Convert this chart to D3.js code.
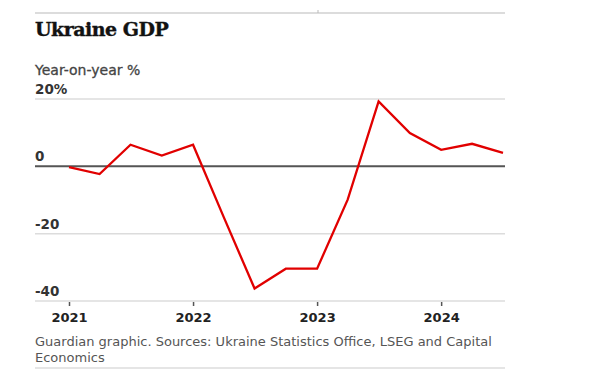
<!DOCTYPE html>
<html>
<head>
<meta charset="utf-8">
<script src="https://cdn.jsdelivr.net/npm/d3@7"></script>
<style>
  body { margin: 0; background: #fff; }
  svg { display: block; }
</style>
</head>
<body>
<div id="chart"></div>
<script>
// Quarterly GDP growth, year-on-year %
const quarters = ["2021-01-01", "2021-04-01", "2021-07-01", "2021-10-01",
                  "2022-01-01", "2022-04-01", "2022-07-01", "2022-10-01",
                  "2023-01-01", "2023-04-01", "2023-07-01", "2023-10-01",
                  "2024-01-01", "2024-04-01", "2024-07-01"];
const gdpGrowth = [-0.2, -2.3, 6.4, 3.2, 6.4, -15, -36.3, -30.4, -30.4, -9.9, 19.3, 9.9, 4.9, 6.7, 4.0];
const yTicks = [20, 0, -20, -40];
const yTickLabels = ["20%", "0", "-20", "-40"];
const yearTicks = ["2021", "2022", "2023", "2024"];

const W = 599, H = 375;
const left = 35, right = 505;
const sans = "'DejaVu Sans', sans-serif";

const parse = d3.timeParse("%Y-%m-%d");
const data = quarters.map((q, i) => ({ date: parse(q), value: gdpGrowth[i] }));

const svg = d3.select("#chart").append("svg")
    .attr("width", W)
    .attr("height", H);

// scales
const x = d3.scaleTime()
    .domain([parse("2021-01-01"), parse("2024-07-01")])
    .range([69, 503]);

const y = d3.scaleLinear()
    .domain([-40, 20])
    .range([301, 99]);

// top rule
svg.append("line")
    .attr("x1", left).attr("x2", right)
    .attr("y1", 13).attr("y2", 13)
    .attr("stroke", "#dcdcdc").attr("stroke-width", 2);
svg.append("line")
    .attr("x1", 318).attr("x2", 318)
    .attr("y1", 10).attr("y2", 13)
    .attr("stroke", "#bbb").attr("stroke-width", 1);

// title
svg.append("text")
    .attr("x", left).attr("y", 36)
    .attr("font-family", "'DejaVu Serif', serif")
    .attr("font-weight", "bold")
    .attr("font-size", 19)
    .attr("letter-spacing", -0.5)
    .attr("fill", "#121212")
    .attr("stroke", "#121212")
    .attr("stroke-width", 0.4)
    .text("Ukraine GDP");

svg.append("text")
    .attr("x", left).attr("y", 75)
    .attr("font-family", sans)
    .attr("font-size", 14)
    .attr("fill", "#444")
    .attr("stroke", "#444")
    .attr("stroke-width", 0.3)
    .text("Year-on-year %");

// gridlines
svg.append("g")
    .selectAll("line")
    .data(yTicks)
    .join("line")
    .attr("x1", left).attr("x2", right)
    .attr("y1", d => y(d)).attr("y2", d => y(d))
    .attr("stroke", d => d === 0 ? "#555" : "#dcdcdc")
    .attr("stroke-width", d => d === 0 ? 2 : 1.5);

// y labels
svg.append("g")
    .selectAll("text")
    .data(yTicks)
    .join("text")
    .attr("x", left)
    .attr("y", d => y(d) - 5)
    .attr("font-family", sans)
    .attr("font-weight", 700)
    .attr("font-size", 13.5)
    .attr("fill", "#333")
    .text((d, i) => yTickLabels[i]);

// x axis
const xAxis = d3.axisBottom(x)
    .tickValues(yearTicks.map(t => parse(t + "-01-01")))
    .tickSize(4)
    .tickFormat(d3.timeFormat("%Y"));

const gx = svg.append("g")
    .attr("transform", `translate(0,${y(-40) + 1})`)
    .call(xAxis);
gx.select(".domain").remove();
gx.selectAll(".tick line").attr("stroke", "#555").attr("stroke-width", 1.5);
gx.selectAll(".tick text")
    .attr("dy", 0)
    .attr("y", 20)
    .attr("font-family", sans)
    .attr("font-weight", 700)
    .attr("font-size", 13)
    .attr("fill", "#222");

// the line
const line = d3.line()
    .x(d => x(d.date))
    .y(d => y(d.value));

svg.append("path")
    .datum(data)
    .attr("fill", "none")
    .attr("stroke", "#e10000")
    .attr("stroke-width", 2.3)
    .attr("stroke-linejoin", "miter")
    .attr("d", line);

// source
const source = svg.append("text")
    .attr("font-family", sans)
    .attr("font-size", 13)
    .attr("fill", "#555");
source.append("tspan").attr("x", left).attr("y", 346)
    .text("Guardian graphic. Sources: Ukraine Statistics Office, LSEG and Capital");
source.append("tspan").attr("x", left).attr("y", 362)
    .text("Economics");

svg.append("line")
    .attr("x1", left).attr("x2", right)
    .attr("y1", 368).attr("y2", 368)
    .attr("stroke", "#dcdcdc").attr("stroke-width", 1.5);
</script>
</body>
</html>
